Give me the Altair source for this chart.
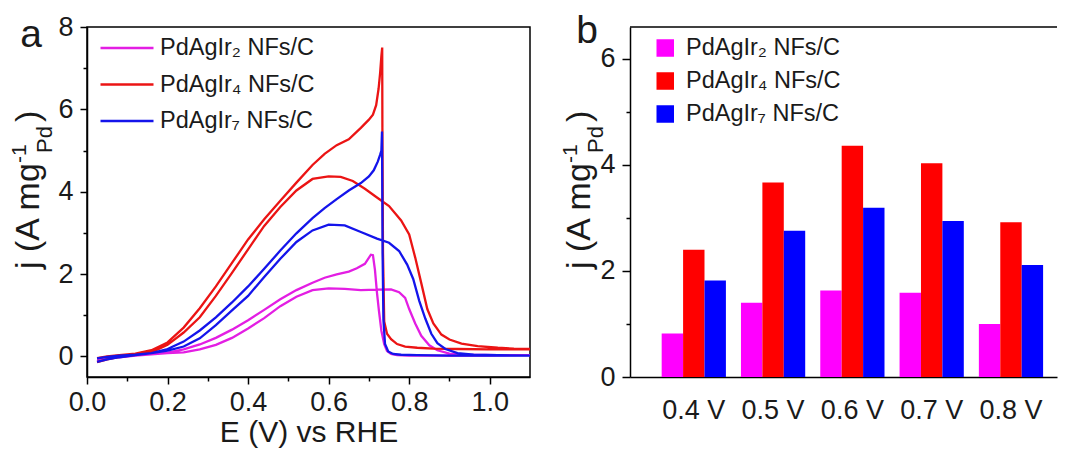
import altair as alt
import pandas as pd

FONT = "Liberation Sans"
TXT = "#1a1a1a"

names = ["PdAgIr₂ NFs/C", "PdAgIr₄ NFs/C", "PdAgIr₇ NFs/C"]
line_colors = ["#e31ee3", "#eb1414", "#1414eb"]
bar_colors = ["#ff00ff", "#ff0000", "#0000ff"]

# ---------- panel a : CV curves (forward scan, then backward scan) ----------
ir2_fwd_E = [0.025, 0.05, 0.08, 0.12, 0.16, 0.20, 0.24, 0.28, 0.32, 0.36, 0.40, 0.44, 0.48, 0.52, 0.56, 0.60,
             0.64, 0.68, 0.72, 0.755, 0.775, 0.79, 0.80, 0.815, 0.83, 0.85, 0.87, 0.90, 0.95, 1.02, 1.10]
ir2_fwd_j = [-0.12, -0.06, -0.02, 0.02, 0.05, 0.08, 0.10, 0.17, 0.28, 0.45, 0.68, 0.93, 1.22, 1.45, 1.61, 1.65,
             1.64, 1.61, 1.62, 1.63, 1.56, 1.42, 1.15, 0.80, 0.50, 0.27, 0.15, 0.07, 0.04, 0.03, 0.03]
ir2_bwd_E = [1.10, 1.0, 0.9, 0.8, 0.77, 0.755, 0.745, 0.738, 0.731, 0.725, 0.72, 0.715, 0.71, 0.705, 0.69, 0.67,
             0.65, 0.62, 0.59, 0.56, 0.52, 0.48, 0.44, 0.40, 0.36, 0.32, 0.28, 0.24, 0.20, 0.16, 0.12, 0.08, 0.05, 0.025]
ir2_bwd_j = [0.03, 0.02, 0.02, 0.02, 0.03, 0.06, 0.13, 0.30, 0.62, 1.10, 1.55, 2.10, 2.46, 2.47, 2.25, 2.14,
             2.06, 1.99, 1.91, 1.79, 1.61, 1.39, 1.13, 0.88, 0.65, 0.45, 0.29, 0.17, 0.09, 0.05, 0.03, 0.01, -0.02, -0.06]

ir4_fwd_E = [0.025, 0.05, 0.08, 0.12, 0.16, 0.20, 0.24, 0.28, 0.32, 0.36, 0.40, 0.44, 0.48, 0.52, 0.56, 0.60,
             0.63, 0.66, 0.69, 0.72, 0.75, 0.78, 0.80, 0.815, 0.83, 0.845, 0.86, 0.88, 0.90, 0.93, 0.97, 1.02, 1.06, 1.10]
ir4_fwd_j = [-0.14, -0.07, -0.01, 0.04, 0.10, 0.28, 0.58, 0.95, 1.47, 2.03, 2.60, 3.17, 3.63, 4.03, 4.31, 4.37,
             4.36, 4.26, 4.07, 3.86, 3.65, 3.30, 2.96, 2.40, 1.78, 1.15, 0.80, 0.53, 0.41, 0.31, 0.25, 0.21, 0.19, 0.18]
ir4_bwd_E = [1.10, 1.0, 0.92, 0.86, 0.82, 0.79, 0.77, 0.755, 0.745, 0.738, 0.735, 0.7335, 0.733, 0.731, 0.728,
             0.724, 0.718, 0.71, 0.70, 0.68, 0.65, 0.62, 0.59, 0.56, 0.52, 0.48, 0.44, 0.40, 0.36, 0.32, 0.28,
             0.24, 0.20, 0.16, 0.12, 0.08, 0.05, 0.025]
ir4_bwd_j = [0.17, 0.17, 0.18, 0.19, 0.21, 0.24, 0.30, 0.42, 0.55, 0.85, 2.50, 5.50, 7.50, 7.30, 6.90,
             6.50, 6.10, 5.87, 5.75, 5.55, 5.27, 5.13, 4.92, 4.65, 4.22, 3.78, 3.33, 2.84, 2.27, 1.70, 1.17,
             0.70, 0.34, 0.15, 0.07, 0.03, 0.00, -0.04]

ir7_fwd_E = [0.025, 0.05, 0.08, 0.12, 0.16, 0.20, 0.24, 0.28, 0.32, 0.36, 0.40, 0.44, 0.48, 0.52, 0.56, 0.60,
             0.64, 0.68, 0.72, 0.75, 0.775, 0.795, 0.81, 0.825, 0.84, 0.855, 0.87, 0.89, 0.92, 0.96, 1.02, 1.10]
ir7_fwd_j = [-0.13, -0.07, -0.02, 0.03, 0.08, 0.14, 0.24, 0.44, 0.76, 1.12, 1.47, 1.93, 2.37, 2.78, 3.06, 3.20,
             3.18, 3.02, 2.86, 2.76, 2.56, 2.23, 1.88, 1.35, 0.92, 0.55, 0.32, 0.18, 0.08, 0.04, 0.03, 0.02]
ir7_bwd_E = [1.10, 1.0, 0.9, 0.82, 0.78, 0.76, 0.748, 0.74, 0.736, 0.734, 0.7325, 0.731, 0.728, 0.722, 0.712,
             0.70, 0.68, 0.65, 0.62, 0.59, 0.56, 0.52, 0.48, 0.44, 0.40, 0.36, 0.32, 0.28, 0.24, 0.20, 0.16,
             0.12, 0.08, 0.05, 0.025]
ir7_bwd_j = [0.02, 0.02, 0.02, 0.03, 0.04, 0.06, 0.12, 0.30, 0.90, 2.50, 5.46, 5.00, 4.90, 4.73, 4.52,
             4.37, 4.21, 4.03, 3.82, 3.60, 3.36, 2.99, 2.57, 2.13, 1.70, 1.31, 0.95, 0.63, 0.36, 0.18, 0.08,
             0.04, 0.02, -0.01, -0.05]

# ---------- panel b : bars ----------
potentials = ["0.4 V", "0.5 V", "0.6 V", "0.7 V", "0.8 V"]
bar_ir2 = [0.82, 1.40, 1.63, 1.59, 1.00]
bar_ir4 = [2.40, 3.67, 4.36, 4.03, 2.92]
bar_ir7 = [1.82, 2.76, 3.19, 2.94, 2.11]

x_major = [0.0, 0.2, 0.4, 0.6, 0.8, 1.0]
x_minor = [0.1, 0.3, 0.5, 0.7, 0.9]
ya_major = [0, 2, 4, 6, 8]
ya_minor = [1, 3, 5, 7]
yb_major = [0, 2, 4, 6]
yb_minor = [1, 3, 5]

# ---------- tables ----------
rows = []
for name, fE, fj, bE, bj in [
    (names[0], ir2_fwd_E, ir2_fwd_j, ir2_bwd_E, ir2_bwd_j),
    (names[1], ir4_fwd_E, ir4_fwd_j, ir4_bwd_E, ir4_bwd_j),
    (names[2], ir7_fwd_E, ir7_fwd_j, ir7_bwd_E, ir7_bwd_j),
]:
    for k, (e, v) in enumerate(zip(fE + bE, fj + bj)):
        rows.append({"sample": name, "E": e, "j": v, "k": k})
cv = pd.DataFrame(rows)

brows = []
for name, vals in zip(names, [bar_ir2, bar_ir4, bar_ir7]):
    for p, v in zip(potentials, vals):
        brows.append({"sample": name, "V": p, "j": v})
bars_df = pd.DataFrame(brows)

one = pd.DataFrame({"d": [0]})

LW, LH = 443, 350
RW, RH = 427, 350

ax_common = dict(labelFont=FONT, labelFontSize=27, labelColor=TXT, domainColor="black",
                 domainWidth=1.5, tickColor="black", tickWidth=1.5, grid=False)
minor_common = dict(labels=False, domain=False, grid=False, tickColor="black", tickWidth=1.5,
                    tickSize=4, title=None)


def txt(s, x, y, size, angle=0, align="left", baseline="alphabetic"):
    kw = dict(text=s, align=align, baseline=baseline, font=FONT, fontSize=size, color=TXT)
    if angle:
        kw["angle"] = angle
    return alt.Chart(one).mark_text(**kw).encode(x=alt.value(x), y=alt.value(y))


def ytitle(dx):
    return [
        txt("j (A mg", -48 + dx, 242, 34, angle=270),
        txt("-1", -61 + dx, 136, 21, angle=270),
        txt("Pd", -35 + dx, 126, 22, angle=270),
        txt(")", -48 + dx, 95, 34, angle=270),
    ]


# ---------- panel a ----------
xa = alt.X("E:Q", scale=alt.Scale(domain=[0, 1.1], nice=False, zero=False),
           axis=alt.Axis(values=x_major, format=".1f", tickSize=7, labelPadding=26,
                         labelBaseline="alphabetic", labelFlush=False, orient="bottom",
                         title="E (V) vs RHE", titleFont=FONT, titleFontSize=30,
                         titleFontWeight="normal", titleColor=TXT, titleBaseline="alphabetic",
                         titleY=64, **ax_common))
ya = alt.Y("j:Q", scale=alt.Scale(domain=[-0.5, 8], nice=False, zero=False),
           axis=alt.Axis(values=ya_major, tickSize=7, labelPadding=7, title=None,
                         orient="left", **ax_common))

lines = alt.Chart(cv).mark_line(strokeWidth=2.3, clip=True).encode(
    x=xa, y=ya,
    color=alt.Color("sample:N", sort=names,
                    scale=alt.Scale(domain=names, range=line_colors),
                    legend=alt.Legend(orient="none", legendX=12, legendY=8, title=None,
                                      symbolType="stroke", symbolSize=2809, symbolStrokeWidth=2.5,
                                      labelFont=FONT, labelFontSize=23.5, labelColor=TXT,
                                      labelOffset=5, rowPadding=10.5, clipHeight=26,
                                      padding=0, labelLimit=400)),
    order="k:Q",
)

minor_a = alt.Chart(cv).mark_line(opacity=0).encode(
    x=alt.X("E:Q", axis=alt.Axis(values=x_minor, orient="bottom", **minor_common)),
    y=alt.Y("j:Q", axis=alt.Axis(values=ya_minor, orient="left", **minor_common)),
    detail="sample:N",
)

panel_a = alt.layer(
    lines, minor_a, *ytitle(0), txt("a", -56, 20, 39, align="center")
).resolve_axis(x="independent", y="independent").properties(
    width=LW, height=LH, view=alt.ViewBackground(stroke="black", strokeWidth=1.5)
)

# ---------- panel b ----------
xb = alt.X("V:N", sort=potentials,
           scale=alt.Scale(paddingInner=0.19, paddingOuter=0.2874, align=0.695),
           axis=alt.Axis(ticks=False, tickSize=0, labelPadding=41, labelBaseline="alphabetic",
                         labelAngle=0, title=None, orient="bottom", **ax_common))
yb = alt.Y("j:Q", scale=alt.Scale(domain=[0, 6.6], nice=False),
           axis=alt.Axis(values=yb_major, tickSize=8, labelPadding=7, title=None,
                         orient="left", **ax_common))

bars = alt.Chart(bars_df).mark_bar().encode(
    x=xb,
    xOffset=alt.XOffset("sample:N", sort=names),
    y=yb,
    color=alt.Color("sample:N", sort=names,
                    scale=alt.Scale(domain=names, range=bar_colors),
                    legend=alt.Legend(orient="none", legendX=23.5, legendY=8, title=None,
                                      symbolType="square", symbolSize=306, symbolStrokeWidth=0,
                                      labelFont=FONT, labelFontSize=23.5, labelColor=TXT,
                                      labelOffset=9, rowPadding=7, clipHeight=26,
                                      padding=0, labelLimit=400)),
)

minor_b = alt.Chart(bars_df).mark_point(opacity=0).encode(
    y=alt.Y("j:Q", axis=alt.Axis(values=yb_minor, orient="left", **minor_common)),
)

top_rule = alt.Chart(one).mark_rule(color="black", strokeWidth=1.5).encode(
    x=alt.value(0), x2=alt.value(RW), y=alt.value(0)
)

panel_b = alt.layer(
    bars, minor_b, top_rule, *ytitle(8), txt("b", -43, 16, 39, align="center")
).resolve_axis(y="independent").properties(width=RW, height=RH)

chart = alt.hconcat(panel_a, panel_b, spacing=28).resolve_scale(color="independent").properties(
    padding={"left": 0, "top": 3, "right": 0, "bottom": 0}
).configure_view(stroke="transparent")

chart.save("out.html", embed_options={"renderer": "svg", "actions": False})
